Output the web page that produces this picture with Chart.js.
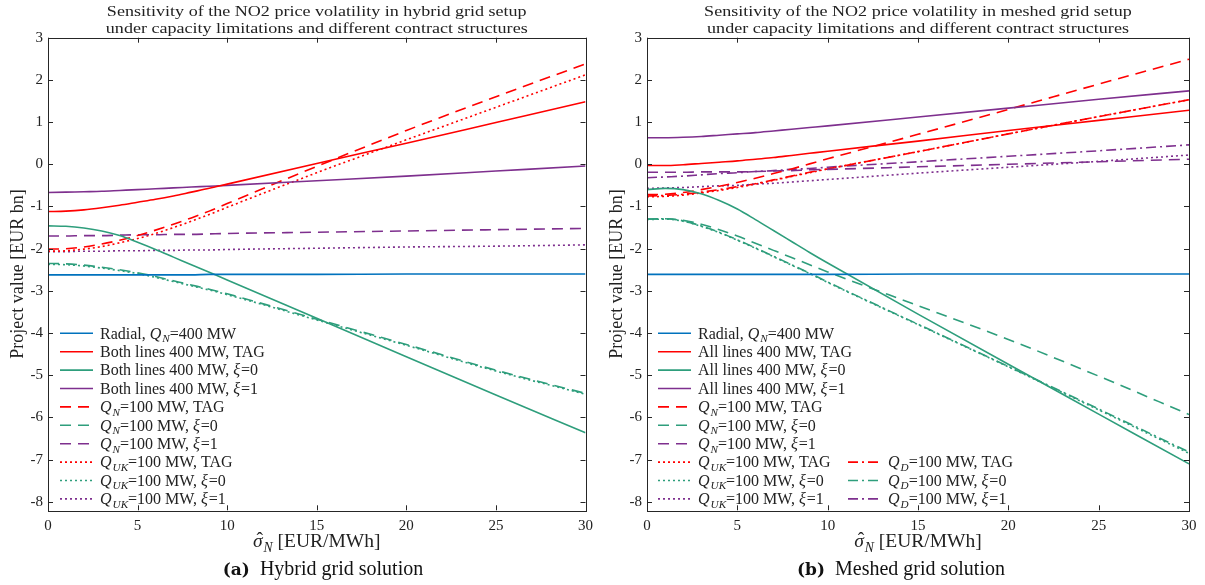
<!DOCTYPE html>
<html><head><meta charset="utf-8">
<script src="https://cdn.jsdelivr.net/npm/chart.js@4/dist/chart.umd.min.js"></script>
<style>
html,body{margin:0;padding:0;background:#fff;}
body{width:1205px;height:585px;position:relative;overflow:hidden;font-family:"Liberation Serif",serif;color:#222;}
canvas{position:absolute;top:0;}
#c1{left:0;}
#c2{left:600px;}
.cap{position:absolute;top:557px;width:400px;text-align:center;font-size:20px;color:#111;}
.cap b{font-family:"DejaVu Serif","Liberation Serif",serif;font-size:17px;}
</style>
</head><body>
<canvas id="c1" width="600" height="585"></canvas>
<canvas id="c2" width="605" height="585"></canvas>
<div class="cap" style="left:123px"><b>(a)</b>&nbsp; Hybrid grid solution</div>
<div class="cap" style="left:701px"><b>(b)</b>&nbsp; Meshed grid solution</div>
<script>
// ---------- DATA ----------
const sigma  = [0,1,2,3,4,5,6,7,8,9,10,15,20,25,30];
const xTicks = [0,5,10,15,20,25,30];
const yTicks = [-8,-7,-6,-5,-4,-3,-2,-1,0,1,2,3];

// (a) Hybrid grid
const hybRadial   = [-2.62,-2.62,-2.62,-2.62,-2.62,-2.62,-2.62,-2.62,-2.62,-2.61,-2.61,-2.61,-2.60,-2.60,-2.60];
const hybBothTAG  = [-1.12,-1.11,-1.08,-1.03,-0.97,-0.90,-0.83,-0.75,-0.66,-0.57,-0.47,0.02,0.50,0.99,1.48];
const hybBothXi0  = [-1.46,-1.47,-1.51,-1.58,-1.69,-1.85,-2.02,-2.20,-2.38,-2.56,-2.74,-3.65,-4.56,-5.47,-6.36];
const hybBothXi1  = [-0.67,-0.66,-0.65,-0.64,-0.62,-0.60,-0.58,-0.56,-0.54,-0.52,-0.50,-0.39,-0.28,-0.16,-0.04];
const hybQnTAG    = [-2.01,-2.00,-1.96,-1.89,-1.80,-1.69,-1.56,-1.42,-1.27,-1.11,-0.93,-0.05,0.80,1.60,2.38];
const hybQnXi0    = [-2.35,-2.36,-2.39,-2.44,-2.50,-2.57,-2.66,-2.76,-2.86,-2.96,-3.07,-3.67,-4.27,-4.88,-5.43];
const hybQnXi1    = [-1.70,-1.70,-1.69,-1.69,-1.68,-1.67,-1.67,-1.66,-1.66,-1.65,-1.64,-1.61,-1.58,-1.55,-1.52];
const hybQukTAG   = [-2.06,-2.05,-2.01,-1.95,-1.86,-1.76,-1.64,-1.50,-1.35,-1.19,-1.02,-0.20,0.58,1.35,2.12];
const hybQukXi0   = [-2.37,-2.38,-2.41,-2.46,-2.52,-2.59,-2.68,-2.78,-2.88,-2.98,-3.09,-3.69,-4.29,-4.90,-5.45];
const hybQukXi1   = [-2.07,-2.07,-2.06,-2.06,-2.05,-2.05,-2.04,-2.04,-2.03,-2.03,-2.02,-1.99,-1.96,-1.94,-1.91];

// (b) Meshed grid
const mesRadial   = [-2.61,-2.61,-2.61,-2.61,-2.61,-2.61,-2.61,-2.61,-2.61,-2.61,-2.61,-2.60,-2.60,-2.60,-2.60];
const mesAllTAG   = [-0.03,-0.03,-0.01,0.02,0.05,0.08,0.12,0.16,0.21,0.26,0.31,0.55,0.80,1.04,1.28];
const mesAllXi0   = [-0.60,-0.57,-0.60,-0.70,-0.86,-1.06,-1.31,-1.57,-1.83,-2.09,-2.34,-3.55,-4.74,-5.92,-7.10];
const mesAllXi1   = [0.63,0.63,0.64,0.66,0.69,0.72,0.75,0.79,0.83,0.87,0.91,1.12,1.33,1.54,1.74];
const mesQnTAG    = [-0.72,-0.71,-0.67,-0.60,-0.52,-0.43,-0.33,-0.22,-0.11,0.01,0.13,0.71,1.30,1.90,2.49];
const mesQnXi0    = [-1.30,-1.29,-1.33,-1.42,-1.55,-1.70,-1.87,-2.04,-2.21,-2.38,-2.55,-3.35,-4.15,-5.02,-5.93];
const mesQnXi1    = [-0.19,-0.19,-0.19,-0.18,-0.18,-0.18,-0.17,-0.16,-0.15,-0.13,-0.12,-0.06,0.00,0.06,0.12];
const mesQukTAG   = [-0.77,-0.76,-0.73,-0.68,-0.62,-0.55,-0.47,-0.38,-0.29,-0.20,-0.11,0.30,0.72,1.13,1.53];
const mesQukXi0   = [-1.31,-1.30,-1.35,-1.47,-1.62,-1.80,-1.99,-2.19,-2.39,-2.59,-2.80,-3.80,-4.80,-5.82,-6.85];
const mesQukXi1   = [-0.57,-0.56,-0.55,-0.53,-0.51,-0.50,-0.47,-0.45,-0.42,-0.39,-0.36,-0.21,-0.07,0.07,0.22];
const mesQdTAG    = [-0.75,-0.74,-0.71,-0.66,-0.60,-0.53,-0.46,-0.37,-0.28,-0.19,-0.11,0.30,0.72,1.13,1.53];
const mesQdXi0    = [-1.30,-1.29,-1.34,-1.46,-1.61,-1.79,-1.98,-2.18,-2.38,-2.58,-2.79,-3.79,-4.79,-5.80,-6.82];
const mesQdXi1    = [-0.32,-0.30,-0.28,-0.25,-0.22,-0.20,-0.17,-0.15,-0.12,-0.10,-0.07,0.06,0.19,0.32,0.46];

const hybLabels = ["Radial, $Q_N$=400 MW","Both lines 400 MW, TAG","Both lines 400 MW, $ξ$=0","Both lines 400 MW, $ξ$=1",
  "$Q_N$=100 MW, TAG","$Q_N$=100 MW, $ξ$=0","$Q_N$=100 MW, $ξ$=1",
  "$Q_{UK}$=100 MW, TAG","$Q_{UK}$=100 MW, $ξ$=0","$Q_{UK}$=100 MW, $ξ$=1"];
const mesLabels = ["Radial, $Q_N$=400 MW","All lines 400 MW, TAG","All lines 400 MW, $ξ$=0","All lines 400 MW, $ξ$=1",
  "$Q_N$=100 MW, TAG","$Q_N$=100 MW, $ξ$=0","$Q_N$=100 MW, $ξ$=1",
  "$Q_{UK}$=100 MW, TAG","$Q_{UK}$=100 MW, $ξ$=0","$Q_{UK}$=100 MW, $ξ$=1",
  "$Q_D$=100 MW, TAG","$Q_D$=100 MW, $ξ$=0","$Q_D$=100 MW, $ξ$=1"];
const hybTitle = ["Sensitivity of the NO2 price volatility in hybrid grid setup","under capacity limitations and different contract structures"];
const mesTitle = ["Sensitivity of the NO2 price volatility in meshed grid setup","under capacity limitations and different contract structures"];
const yTitle = "Project value [EUR bn]";
const xTitle = "[EUR/MWh]";

// ---------- STYLE ----------
const BLUE='#0072BD', RED='#FF0000', GREEN='#2E9E7C', PURPLE='#7E2F8E';
const SOLID=[], DASH=[11,7], DOT=[2,3], DASHDOT=[10,4,2,4];
const FONT='"Liberation Serif", serif';

const hybSeries = [
  [hybRadial,BLUE,SOLID],[hybBothTAG,RED,SOLID],[hybBothXi0,GREEN,SOLID],[hybBothXi1,PURPLE,SOLID],
  [hybQnTAG,RED,DASH],[hybQnXi0,GREEN,DASH],[hybQnXi1,PURPLE,DASH],
  [hybQukTAG,RED,DOT],[hybQukXi0,GREEN,DOT],[hybQukXi1,PURPLE,DOT]];
const mesSeries = [
  [mesRadial,BLUE,SOLID],[mesAllTAG,RED,SOLID],[mesAllXi0,GREEN,SOLID],[mesAllXi1,PURPLE,SOLID],
  [mesQnTAG,RED,DASH],[mesQnXi0,GREEN,DASH],[mesQnXi1,PURPLE,DASH],
  [mesQukTAG,RED,DOT],[mesQukXi0,GREEN,DOT],[mesQukXi1,PURPLE,DOT],
  [mesQdTAG,RED,DASHDOT],[mesQdXi0,GREEN,DASHDOT],[mesQdXi1,PURPLE,DASHDOT]];

// ---------- RICH TEXT ----------
function parseRich(str){
  const out=[]; let math=false, buf='', i=0;
  const flush=()=>{ if(buf){ out.push({t:buf,it:math,sub:false}); buf=''; } };
  while(i<str.length){
    const c=str[i];
    if(c==='$'){ flush(); math=!math; i++; continue; }
    if(math && c==='_'){
      flush(); i++; let s='';
      if(str[i]==='{'){ i++; while(i<str.length && str[i]!=='}') s+=str[i++]; i++; } else s=str[i++];
      out.push({t:s,it:true,sub:true}); continue;
    }
    buf+=c; i++;
  }
  flush(); return out;
}
function richWidth(ctx,str,size){
  let w=0; for(const s of parseRich(str)){ ctx.font=(s.it?'italic ':'')+(s.sub?size*0.7:size)+'px '+FONT; w+=ctx.measureText(s.t).width+(s.it&&!s.sub?1:0); } return w;
}
function drawRich(ctx,str,x,yc,size){
  let cx=x; const base=yc+size*0.33;
  ctx.textAlign='left'; ctx.textBaseline='alphabetic';
  for(const s of parseRich(str)){
    const fs=s.sub?size*0.7:size;
    ctx.font=(s.it?'italic ':'')+fs+'px '+FONT;
    ctx.fillText(s.t,cx,base+(s.sub?size*0.22:0));
    cx+=ctx.measureText(s.t).width + (s.it&&!s.sub?1:0);
  }
  return cx-x;
}
function stretchText(ctx,txt,x,y,sx){
  ctx.save(); ctx.translate(x,y); ctx.scale(sx,1); ctx.fillText(txt,0,0); ctx.restore();
}

const decor = {
  id:'decor',
  afterDraw(chart,args,o){
    const {ctx,chartArea:a,scales:{x,y}}=chart;
    ctx.save();
    ctx.strokeStyle='#262626'; ctx.lineWidth=1; ctx.setLineDash([]);
    ctx.strokeRect(Math.round(a.left)+0.5,Math.round(a.top)+0.5,Math.round(a.right-a.left),Math.round(a.bottom-a.top));
    ctx.beginPath();
    for(const t of xTicks){ const p=Math.round(x.getPixelForValue(t))+0.5; ctx.moveTo(p,a.bottom); ctx.lineTo(p,a.bottom-5); ctx.moveTo(p,a.top); ctx.lineTo(p,a.top+5); }
    for(const t of yTicks){ const p=Math.round(y.getPixelForValue(t))+0.5; ctx.moveTo(a.left,p); ctx.lineTo(a.left+5,p); ctx.moveTo(a.right,p); ctx.lineTo(a.right-5,p); }
    ctx.stroke();
    ctx.fillStyle='#222';
    // title
    const cxm=(a.left+a.right)/2;
    ctx.font='15.5px '+FONT; ctx.textAlign='center'; ctx.textBaseline='middle';
    stretchText(ctx,o.title[0],cxm,12,1.165); stretchText(ctx,o.title[1],cxm,29,1.165);
    // y title
    ctx.save(); ctx.translate(o.yTitleX,(a.top+a.bottom)/2); ctx.rotate(-Math.PI/2);
    ctx.font='18px '+FONT; ctx.textAlign='center'; ctx.textBaseline='middle'; ctx.fillText(yTitle,0,0); ctx.restore();
    // x title
    const sz=19.5; const lab='$σ_N$ '+xTitle;
    const w=richWidth(ctx,lab,sz); const x0=cxm-w/2; const yc=541;
    drawRich(ctx,lab,x0,yc,sz);
    ctx.font='italic '+sz+'px '+FONT; const ws=ctx.measureText('σ').width;
    ctx.font=sz+'px '+FONT; ctx.textAlign='center'; ctx.textBaseline='alphabetic';
    ctx.fillText('ˆ',x0+ws/2+2,yc+sz*0.33-2);
    // legend
    o.legend.forEach((L)=>{
      const yc=333.3+L.row*18.4;
      ctx.strokeStyle=L.color; ctx.lineWidth=1.6; ctx.setLineDash(L.dash);
      ctx.beginPath(); ctx.moveTo(L.x,yc); ctx.lineTo(L.x+33,yc); ctx.stroke();
      ctx.setLineDash([]); ctx.fillStyle='#222';
      drawRich(ctx,L.label,L.x+40,yc,16);
    });
    ctx.restore();
  }
};

function build(id,series,labels,title,yTitleX,leftW,padRight,legendPos){
  const datasets=series.map((s,i)=>({
    label:labels[i],
    data:sigma.map((v,j)=>({x:v,y:s[0][j]})),
    borderColor:s[1],borderDash:s[2],borderWidth:1.6,pointRadius:0,fill:false,
    cubicInterpolationMode:'monotone'
  }));
  const legend=series.map((s,i)=>({label:labels[i],color:s[1],dash:s[2],x:legendPos[i][0],row:legendPos[i][1]}));
  const cv=document.getElementById(id);
  return new Chart(cv,{
    type:'line',
    data:{datasets},
    options:{
      responsive:false,animation:false,
      layout:{padding:{left:0,top:37.7,right:padRight,bottom:0}},
      plugins:{legend:{display:false},title:{display:false},tooltip:{enabled:false},
        decor:{title,yTitleX,legend}},
      scales:{
        x:{type:'linear',min:0,max:30,
          afterBuildTicks:s=>{s.ticks=xTicks.map(v=>({value:v}));},
          afterFit:s=>{s.height=585-510.3;},
          grid:{display:false,drawTicks:false,tickLength:0},border:{display:false},
          ticks:{color:'#222',padding:7,font:{family:FONT,size:15}}},
        y:{type:'linear',min:-8.2,max:3,
          afterBuildTicks:s=>{s.ticks=yTicks.map(v=>({value:v}));},
          afterFit:s=>{s.width=leftW;},
          grid:{display:false,drawTicks:false,tickLength:0},border:{display:false},
          ticks:{color:'#222',padding:5,font:{family:FONT,size:15}}}
      }
    },
    plugins:[decor]
  });
}
const hybLegendPos=[[60,0],[60,1],[60,2],[60,3],[60,4],[60,5],[60,6],[60,7],[60,8],[60,9]];
const mesLegendPos=[[58,0],[58,1],[58,2],[58,3],[58,4],[58,5],[58,6],[58,7],[58,8],[58,9],[248,7],[248,8],[248,9]];
build('c1',hybSeries,hybLabels,hybTitle,18,48,11,hybLegendPos);
build('c2',mesSeries,mesLabels,mesTitle,17,47,16,mesLegendPos);
</script>
</body></html>
